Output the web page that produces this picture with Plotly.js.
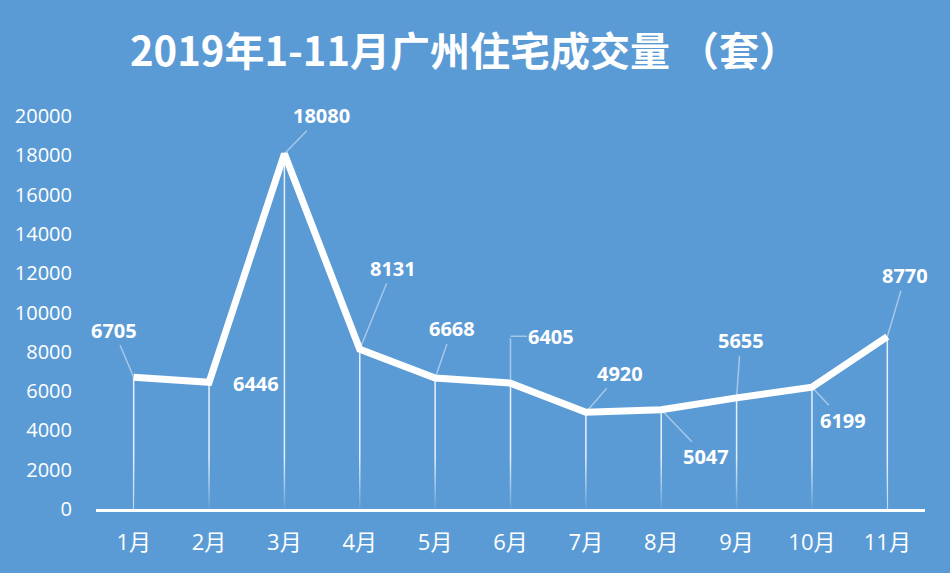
<!DOCTYPE html>
<html>
<head>
<meta charset="utf-8">
<script src="https://cdn.plot.ly/plotly-3.0.1.min.js"></script>
<style>html,body{margin:0;padding:0;background:#5B9BD5;}#chart{width:950px;height:573px;}</style>
</head>
<body>
<div id="chart"></div>
<script>
// Data
const months = ['1月','2月','3月','4月','5月','6月','7月','8月','9月','10月','11月'];
const deals = [6705, 6446, 18080, 8131, 6668, 6405, 4920, 5047, 5655, 6199, 8770];
const yTicks = [0, 2000, 4000, 6000, 8000, 10000, 12000, 14000, 16000, 18000, 20000];

// Label placement (pixel offsets from each point) – styling only
const labelDX = [-20, 47, 37, 33, 17, 40, 34, 45, 4, 31, 18];
const labelDY = [-47, 1, -38, -81, -49, -47, -39, 47, -57, 33, -61];
const labelLeader = [true, false, true, true, true, false, true, true, true, true, true];

const white = '#FFFFFF';
const bg = '#5B9BD5';
const leaderColor = 'rgba(255,255,255,0.45)';
const numFont = {family: '"Open Sans", "Noto Sans CJK SC", sans-serif', size: 20, color: white};

const trace = {
  type: 'scatter',
  mode: 'lines',
  x: months,
  y: deals,
  line: {color: white, width: 7},
  error_y: {
    type: 'data', symmetric: false,
    array: deals.map(() => 0),
    arrayminus: deals,
    color: 'rgba(255,255,255,0.85)', thickness: 1.5, width: 0
  },
  hoverinfo: 'x+y'
};

// fade of the drop lines near the axis
const fade = {
  type: 'scatter', mode: 'none',
  x: [months[0], months[months.length - 1]],
  y: [2600, 2600],
  fill: 'tozeroy',
  fillgradient: {
    type: 'vertical', start: 0, stop: 2600,
    colorscale: [[0, 'rgba(91,155,213,0.95)'], [0.45, 'rgba(91,155,213,0.5)'], [1, 'rgba(91,155,213,0)']]
  },
  hoverinfo: 'skip'
};

const annotations = months.map((m, i) => ({
  x: m, y: deals[i], xref: 'x', yref: 'y',
  text: '<b>' + deals[i] + '</b>',
  showarrow: true,
  ax: labelDX[i], ay: labelDY[i],
  arrowhead: 0, arrowwidth: 1.5, standoff: 0,
  arrowcolor: labelLeader[i] ? leaderColor : 'rgba(0,0,0,0)',
  font: numFont
}));
// elbow leader for the 6月 label
annotations.push({
  x: months[5], y: deals[5], xref: 'x', yref: 'y', text: ' ',
  showarrow: true, ax: 0, ay: -47, arrowhead: 0, arrowwidth: 1.5, standoff: 0,
  arrowcolor: leaderColor, font: {size: 1}
});
annotations.push({
  x: months[5], y: deals[5], xref: 'x', yref: 'y', text: ' ', yshift: 47,
  showarrow: true, ax: 18, ay: 0, arrowhead: 0, arrowwidth: 1.5, standoff: 0,
  arrowcolor: leaderColor, font: {size: 1}
});

const layout = {
  width: 950, height: 573,
  paper_bgcolor: bg,
  plot_bgcolor: bg,
  margin: {l: 96, r: 25, t: 116, b: 64},
  showlegend: false,
  title: {
    text: '<b>2019年1-11月广州住宅成交量 （套）</b>',
    x: 0.489, xanchor: 'center', y: 0.91, yanchor: 'middle',
    font: {family: '"Noto Sans CJK SC", sans-serif', size: 40, color: white}
  },
  xaxis: {
    type: 'category',
    range: [-0.5, 10.5],
    showgrid: false, zeroline: false,
    showline: true, linecolor: white, linewidth: 3, layer: 'above traces',
    ticks: '', ticklabelstandoff: 12,
    tickfont: {family: '"Open Sans", "Noto Sans CJK SC", sans-serif', size: 22, color: white},
    fixedrange: true
  },
  yaxis: {
    range: [0, 20000],
    tickvals: yTicks,
    ticktext: yTicks.map(String),
    showgrid: false, zeroline: false, showline: false,
    ticks: '', ticklabelstandoff: 23,
    tickfont: {family: '"Open Sans", sans-serif', size: 20, color: white},
    fixedrange: true
  },
  annotations: annotations
};

Plotly.newPlot('chart', [trace, fade], layout, {displayModeBar: false, staticPlot: true});
</script>
</body>
</html>
